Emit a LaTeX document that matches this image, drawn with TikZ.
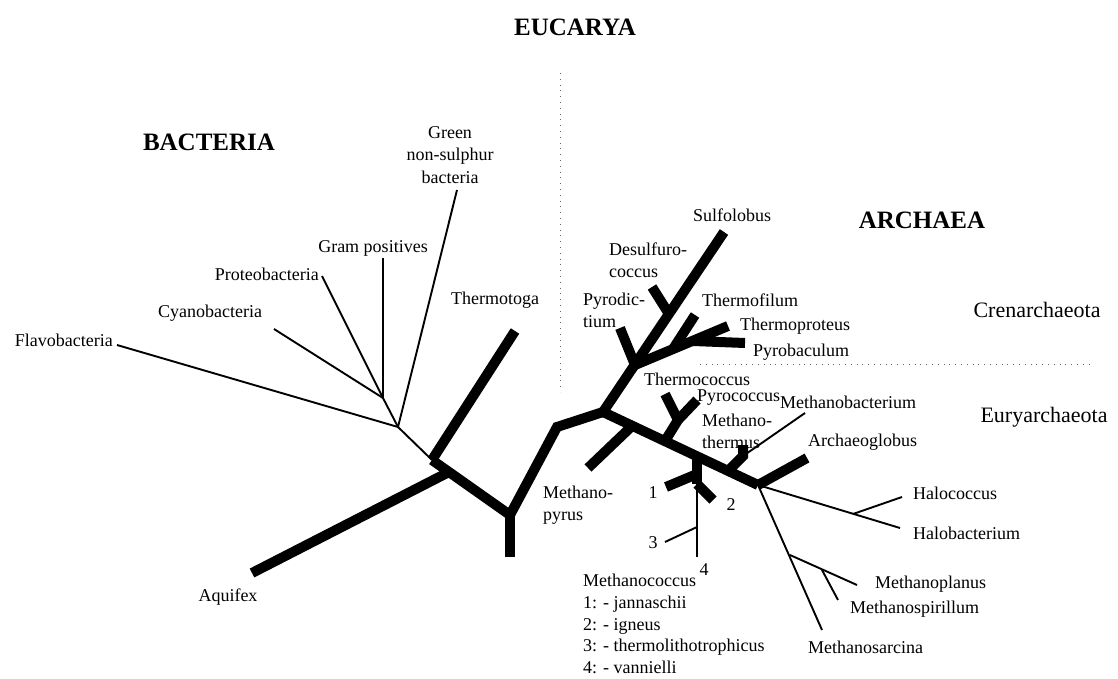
\documentclass[tikz,border=0pt]{standalone}
\usepackage{fontspec}
\setmainfont{Liberation Serif}
\begin{document}
\begin{tikzpicture}[x=1pt,y=-1pt,
  thinbr/.style={line width=1.9pt},
  thickbr/.style={line width=10pt},
  lbl/.style={font=\fontsize{18}{22.3}\selectfont, inner sep=0pt},
  legendtxt/.style={font=\fontsize{18}{21.6}\selectfont, inner sep=0pt},
  head/.style={font=\fontsize{25}{29}\selectfont\bfseries, inner sep=0pt},
  phylum/.style={font=\fontsize{22}{26}\selectfont, inner sep=0pt},
  guide/.style={black!60, line width=0.8pt, dash pattern=on 0.8pt off 5pt}]
\useasboundingbox (0,0) rectangle (1118,679);
% guide lines
\coordinate (gv1) at (560,73);
\coordinate (gv2) at (560,392);
\coordinate (gh1) at (700,364);
\coordinate (gh2) at (1090,364);
\draw[guide] (gv1) -- (gv2);
\draw[guide] (gh1) -- (gh2);
% ---- bacteria
\coordinate (flavo) at (117,345);
\coordinate (cyano) at (274,329);
\coordinate (proteo) at (322,276);
\coordinate (gram) at (383,258);
\coordinate (green) at (457,190);
\coordinate (b1) at (383,398);
\coordinate (b2) at (398,427);
\coordinate (T) at (432,460);
\coordinate (thermotoga) at (515,331);
\coordinate (Q) at (449,472);
\coordinate (aquifex) at (252,573);
\coordinate (M) at (510,515);
\coordinate (Mb) at (510,557);
\coordinate (M2) at (557,427);
\coordinate (R) at (603,412);
\draw[thinbr] (flavo) -- (b2);
\draw[thinbr] (cyano) -- (b1);
\draw[thinbr] (proteo) -- (b1);
\draw[thinbr] (gram) -- (b1);
\draw[thinbr] (b1) -- (b2);
\draw[thinbr] (green) -- (b2);
\draw[thinbr] (b2) -- (T);
\draw[thickbr] (T) -- (M) -- (M2) -- (R);
\draw[thickbr] (M) -- (Mb);
\draw[thickbr] (T) -- (thermotoga);
\draw[thickbr] (Q) -- (aquifex);
% ---- crenarchaeota
\coordinate (sulfo) at (724,232);
\coordinate (c0) at (635,365);
\coordinate (c1) at (669,314);
\coordinate (desulfo) at (652,287);
\coordinate (pyrodict) at (620,328);
\coordinate (c2) at (673,349);
\coordinate (thermofil) at (695,315);
\coordinate (c3) at (693,341);
\coordinate (thermoprot) at (728,326);
\coordinate (pyrobac) at (745,343);
\draw[thickbr] (R) -- (sulfo);
\draw[thickbr] (c1) -- (desulfo);
\draw[thickbr] (c0) -- (pyrodict);
\draw[thickbr] (c0) -- (thermoprot);
\draw[thickbr] (c2) -- (thermofil);
\draw[thickbr] (c3) -- (pyrobac);
% ---- euryarchaeota
\coordinate (E) at (758,485);
\coordinate (e1) at (632,426);
\coordinate (mpyrus) at (588,468);
\coordinate (e2) at (665,441);
\coordinate (e3) at (678,420);
\coordinate (tcoccus) at (665,394);
\coordinate (pcoccus) at (697,400);
\coordinate (e4) at (697,456);
\coordinate (e5) at (697,484);
\coordinate (e5a) at (697,474);
\coordinate (m1) at (666,487);
\coordinate (m2) at (713,500);
\coordinate (e6) at (697,527);
\coordinate (m3) at (665,542);
\coordinate (m4) at (697,557);
\coordinate (e7) at (728,471);
\coordinate (e8) at (743,456);
\coordinate (mtherm) at (743,445);
\coordinate (mbact) at (805,413);
\coordinate (archglob) at (807,458);
\coordinate (h1) at (853,514);
\coordinate (halobact) at (900,528);
\coordinate (halococ) at (902,497);
\coordinate (msarc) at (822,630);
\coordinate (s1) at (790,555);
\coordinate (mplan) at (857,585);
\coordinate (s2) at (822,570);
\coordinate (mspir) at (838,600);
\draw[thickbr] (R) -- (E);
\draw[thickbr] (e1) -- (mpyrus);
\draw[thickbr] (e2) -- (e3) -- (pcoccus);
\draw[thickbr] (e3) -- (tcoccus);
\draw[thickbr] (e4) -- (e5);
\draw[thickbr] (e5a) -- (m1);
\draw[thickbr] (e5) -- (m2);
\draw[thinbr] (e5) -- (m4);
\draw[thinbr] (e6) -- (m3);
\draw[thickbr] (e7) -- (e8) -- (mtherm);
\draw[thinbr] (e8) -- (mbact);
\draw[thickbr] (E) -- (archglob);
\draw[thinbr] (E) -- (halobact);
\draw[thinbr] (h1) -- (halococ);
\draw[thinbr] (E) -- (msarc);
\draw[thinbr] (s1) -- (mplan);
\draw[thinbr] (s2) -- (mspir);
% ---- headings
\node[head] (eucarya) at (575,27) {EUCARYA};
\node[head] (bacteria) at (209,142) {BACTERIA};
\node[head] (archaea) at (922,220) {ARCHAEA};
\node[phylum] (crenarch) at (1037,310) {Crenarchaeota};
\node[phylum] (euryarch) at (1044,417) {Euryarchaeota};
% ---- labels
\node[lbl, align=center] (lgreen) at (450,155) {Green\\non-sulphur\\bacteria};
\node[lbl] (lgram) at (373,248) {Gram positives};
\node[lbl, anchor=east] (lproteo) at (319,274) {Proteobacteria};
\node[lbl] (lcyano) at (210,313) {Cyanobacteria};
\node[lbl, anchor=east] (lflavo) at (113,340) {Flavobacteria};
\node[lbl] (lthermotoga) at (495,300) {Thermotoga};
\node[lbl] (laquifex) at (228,597) {Aquifex};
\node[lbl] (lsulfo) at (732,215) {Sulfolobus};
\node[lbl, anchor=west, align=left] (ldesulfo) at (609,260) {Desulfuro-\\coccus};
\node[lbl, anchor=west, align=left] (lpyrodict) at (583,310) {Pyrodic-\\tium};
\node[lbl, anchor=west] (lthermofil) at (702,300) {Thermofilum};
\node[lbl, anchor=west] (lthermoprot) at (740,326) {Thermoproteus};
\node[lbl, anchor=west] (lpyrobac) at (753,352) {Pyrobaculum};
\node[lbl, anchor=west] (ltcoccus) at (644,379) {Thermococcus};
\node[lbl, anchor=west] (lpcoccus) at (697,398) {Pyrococcus};
\node[lbl, anchor=west] (lmbact) at (780,402) {Methanobacterium};
\node[lbl, anchor=west, align=left] (lmtherm) at (702,431) {Methano-\\thermus};
\node[lbl, anchor=west] (larchglob) at (808,442) {Archaeoglobus};
\node[lbl, anchor=west, align=left] (lmpyrus) at (543,505) {Methano-\\pyrus};
\node[lbl] (l1) at (653,493) {1};
\node[lbl] (l2) at (731,505) {2};
\node[lbl] (l3) at (653,543) {3};
\node[lbl] (l4) at (704,570) {4};
\node[lbl, anchor=west] (lhalococ) at (913,493) {Halococcus};
\node[lbl, anchor=west] (lhalobact) at (913,533) {Halobacterium};
\node[lbl, anchor=west] (lmplan) at (875,584) {Methanoplanus};
\node[lbl, anchor=west] (lmspir) at (850,609) {Methanospirillum};
\node[lbl, anchor=west] (lmsarc) at (808,647) {Methanosarcina};
\node[legendtxt, anchor=west, align=left] (legend) at (583,624) {Methanococcus\\1: - jannaschii\\2: - igneus\\3: - thermolithotrophicus\\4: - vannielli};
\end{tikzpicture}
\end{document}
